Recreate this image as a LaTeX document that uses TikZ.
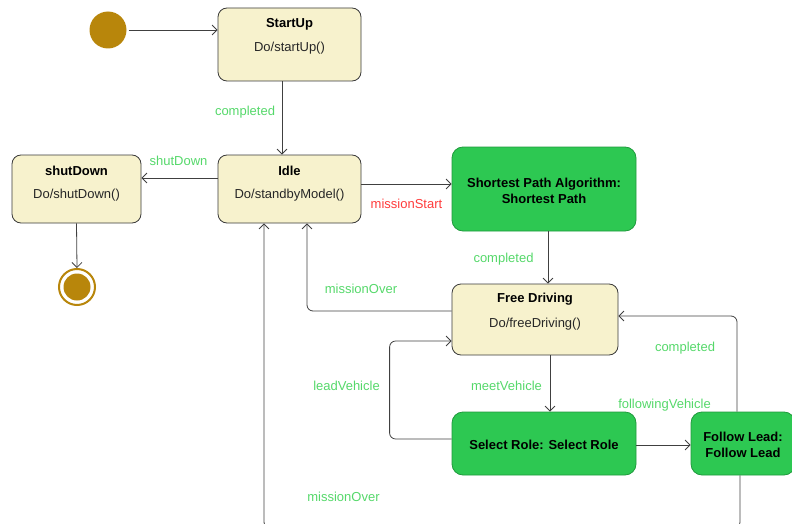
\documentclass[tikz,border=0pt]{standalone}
\usepackage{fontspec}
\setmainfont{Liberation Sans}
\usetikzlibrary{arrows.meta}
\definecolor{cream}{HTML}{F7F2CD}
\definecolor{creamborder}{HTML}{3A3A3A}
\definecolor{actgreen}{HTML}{2DC852}
\definecolor{actborder}{HTML}{1F9A3C}
\definecolor{guard}{HTML}{55D86A}
\definecolor{guardred}{HTML}{FF3B3B}
\definecolor{pseudo}{HTML}{B8860B}
\definecolor{wire}{HTML}{404040}
\tikzset{
  state/.style={draw=creamborder, fill=cream, rounded corners=9pt, line width=0.8pt, inner sep=0pt},
  activity/.style={draw=actborder, fill=actgreen, rounded corners=11pt, line width=0.8pt, inner sep=0pt},
  title/.style={font=\fontsize{13}{16}\selectfont\bfseries, inner sep=0pt, align=center},
  body/.style={font=\fontsize{13}{16}\selectfont, inner sep=0pt, text=black!85},
  guardlbl/.style={font=\fontsize{13}{16}\selectfont, text=guard, inner sep=0pt},
  trans/.style={draw=wire, line width=0.8pt, -{Straight Barb[length=5pt,width=10pt,line width=0.8pt]}, rounded corners=6pt},
}
\begin{document}
\begin{tikzpicture}[x=1pt,y=-1pt]
\useasboundingbox (0,0) rectangle (792,524);
\clip (0,0) rectangle (792,524);

% pseudo states
\node[circle, fill=pseudo, minimum size=37pt, inner sep=0pt] (init) at (108,30) {};
\node[circle, draw=pseudo, line width=2pt, fill=white, minimum size=36pt, inner sep=0pt] (final) at (77,287) {};
\node[circle, fill=pseudo, minimum size=27pt, inner sep=0pt] (finalcore) at (77,287) {};

% simple states
\node[state, minimum width=143pt, minimum height=73pt] (startup) at (289.5,44.5) {};
\node[title] (startup-t) at (289.5,24) {StartUp};
\node[body]  (startup-d) at (289.5,48) {Do/startUp()};

\node[state, minimum width=143pt, minimum height=68pt] (idle) at (289.5,189) {};
\node[title] (idle-t) at (289.5,171) {Idle};
\node[body]  (idle-d) at (289.5,195) {Do/standbyModel()};

\node[state, minimum width=129pt, minimum height=68pt] (shutdown) at (76.5,189) {};
\node[title] (shutdown-t) at (76.5,171) {shutDown};
\node[body]  (shutdown-d) at (76.5,195) {Do/shutDown()};

\node[state, minimum width=166pt, minimum height=71pt] (fd) at (535,319.5) {};
\node[title] (fd-t) at (535,299) {Free Driving};
\node[body]  (fd-d) at (535,324) {Do/freeDriving()};

% activity states
\node[activity, minimum width=184pt, minimum height=84pt] (sp) at (544,189) {};
\node[title] (sp-t) at (544,190.5) {Shortest Path Algorithm:\\Shortest Path};
\node[activity, minimum width=184pt, minimum height=63pt] (sr) at (544,443.5) {};
\node[title] (sr-t) at (544,445) {Select Role: Select Role};
\node[activity, minimum width=104pt, minimum height=63pt] (fl) at (743,443.5) {};
\node[title] (fl-t) at (743,445) {Follow Lead:\\Follow Lead};

% transitions
\draw[trans] ([xshift=2pt]init.east) -- (startup.west |- init);
\draw[trans] ([xshift=-7.5pt]startup.south) -- ([xshift=-7.5pt]idle.north);
\draw[trans] ([yshift=11pt]idle.west) -- ([yshift=11pt]shutdown.east);
\draw[trans] (shutdown.south) -- (final.north);
\draw[trans] ([yshift=5pt]idle.east) -- ([yshift=5pt]sp.west);
\draw[trans] ([xshift=4pt]sp.south) -- ([xshift=13pt]fd.north);
\draw[trans] ([yshift=8.5pt]fd.west) -| ([xshift=17.5pt]idle.south);
\draw[trans] ([xshift=15pt]fd.south) -- ([xshift=6pt]sr.north);
\draw[trans] ([yshift=4.5pt]sr.west) -- ++(-62,0) |- ([yshift=-21.5pt]fd.west);
\draw[trans] ([yshift=-1.5pt]sr.east) -- ([yshift=-1.5pt]fl.west);
\draw[trans] ([xshift=-6pt]fl.north) |- ([yshift=3.5pt]fd.east);
\coordinate (loop) at (0,528);
\draw[trans] ([xshift=-3pt]fl.south) |- ([xshift=-25.5pt]idle.south |- loop) -- ([xshift=-25.5pt]idle.south);

% guards
\node[guardlbl] (g1) at (245,112) {completed};
\node[guardlbl] (g2) at (178.5,161) {shutDown};
\node[guardlbl, text=guardred] (g3) at (406.5,204) {missionStart};
\node[guardlbl] (g4) at (503.5,259) {completed};
\node[guardlbl] (g5) at (361,289) {missionOver};
\node[guardlbl] (g6) at (346.5,386) {leadVehicle};
\node[guardlbl] (g7) at (506.5,386) {meetVehicle};
\node[guardlbl] (g8) at (664.5,405) {followingVehicle};
\node[guardlbl] (g9) at (685,348) {completed};
\node[guardlbl] (g10) at (343.5,497) {missionOver};
\end{tikzpicture}
\end{document}
